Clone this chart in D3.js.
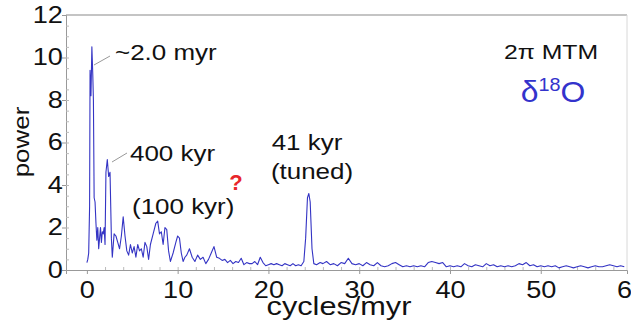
<!DOCTYPE html>
<html lang="en">
<head>
<meta charset="UTF-8">
<title>MTM spectrum</title>
<script src="https://d3js.org/d3.v7.min.js"></script>
<style>
  body { margin: 0; background: #fff; font-family: 'Liberation Sans', Arial, sans-serif; }
  svg { display: block; }
</style>
</head>
<body>
<svg id="chart" width="631" height="326"></svg>
<script>
// frequency (cycles/myr) and power
const freq = [0, 0.1, 0.2, 0.3, 0.35, 0.45, 0.55, 0.65, 0.72, 0.8, 0.9, 1.0, 1.1, 1.2, 1.3, 1.4, 1.5, 1.6, 1.7, 1.8, 1.9, 2.0,
  2.1, 2.25, 2.4, 2.55, 2.7, 2.8, 3.0, 3.2, 3.4, 3.6, 3.8, 4.0, 4.2, 4.4, 4.6, 4.8, 5.0, 5.2, 5.4, 5.6, 5.8, 6.0,
  6.2, 6.4, 6.6, 6.8, 7.0, 7.3, 7.6, 7.8, 8.0, 8.2, 8.4, 8.6, 8.8, 9.0, 9.2, 9.5, 9.8, 10.0, 10.2, 10.4, 10.6,
  10.8, 11.0, 11.3, 11.6, 11.9, 12.2, 12.5, 12.8, 13.1, 13.4, 13.7, 14.0, 14.3, 14.6, 14.9, 15.2, 15.5, 15.8,
  16.1, 16.4, 16.7, 17.0, 17.3, 17.6, 17.9, 18.2, 18.5, 18.8, 19.1, 19.4, 19.7, 20.0, 20.3, 20.6, 20.9, 21.2,
  21.5, 21.8, 22.1, 22.4, 22.7, 23.0, 23.3, 23.6, 23.9, 24.1, 24.3, 24.45, 24.6, 24.8, 25.0, 25.3, 25.7, 26.0,
  26.4, 26.8, 27.2, 27.6, 28.0, 28.4, 28.8, 29.2, 29.6, 30.0, 30.4, 30.8, 31.2, 31.6, 32.0, 32.4, 32.8, 33.2,
  33.6, 34.0, 34.4, 34.8, 35.2, 35.6, 36.0, 36.4, 36.8, 37.2, 37.6, 38.0, 38.4, 38.8, 39.2, 39.6, 40.0, 40.4,
  40.8, 41.2, 41.6, 42.0, 42.4, 42.8, 43.2, 43.6, 44.0, 44.4, 44.8, 45.2, 45.6, 46.0, 46.4, 46.8, 47.2, 47.6,
  48.0, 48.4, 48.8, 49.2, 49.6, 50.0, 50.4, 50.8, 51.2, 51.6, 52.0, 52.4, 52.8, 53.2, 53.6, 54.0, 54.4, 54.8,
  55.2, 55.6, 56.0, 56.4, 56.8, 57.2, 57.6, 58.0, 58.4, 58.8, 59.2, 59.5];
const power = [0.35, 0.5, 0.8, 3.0, 9.4, 8.2, 10.5, 9.2, 8.0, 3.4, 3.2, 2.2, 1.4, 2.0, 1.0, 1.5, 2.0, 1.3, 1.8, 1.7, 2.0, 1.2,
  4.6, 5.2, 4.4, 4.6, 1.5, 0.6, 1.7, 1.6, 1.3, 1.0, 1.6, 2.5, 1.6, 0.9, 0.7, 1.2, 0.8, 1.1, 0.6, 1.2, 0.9, 1.0,
  0.6, 1.3, 1.1, 0.5, 1.2, 1.7, 2.2, 2.3, 1.7, 1.8, 1.2, 2.0, 1.9, 0.9, 0.4, 0.8, 1.3, 1.6, 1.5, 0.8, 0.4,
  0.6, 0.7, 1.0, 0.6, 0.4, 0.7, 0.5, 0.6, 0.3, 0.5, 0.8, 1.1, 0.6, 0.55, 0.45, 0.5, 0.35, 0.45,
  0.3, 0.4, 0.35, 0.55, 0.25, 0.35, 0.3, 0.3, 0.4, 0.25, 0.6, 0.35, 0.2, 0.25, 0.3, 0.25, 0.3, 0.25,
  0.2, 0.3, 0.25, 0.2, 0.3, 0.2, 0.25, 0.2, 0.4, 1.5, 3.4, 3.6, 3.2, 1.0, 0.3, 0.25, 0.35, 0.3,
  0.4, 0.25, 0.3, 0.2, 0.35, 0.3, 0.55, 0.3, 0.25, 0.3, 0.2, 0.35, 0.25, 0.2, 0.35, 0.2, 0.15, 0.2,
  0.3, 0.35, 0.25, 0.15, 0.2, 0.15, 0.2, 0.15, 0.2, 0.15, 0.35, 0.4, 0.35, 0.3, 0.35, 0.15, 0.2,
  0.15, 0.2, 0.15, 0.3, 0.2, 0.15, 0.25, 0.2, 0.15, 0.3, 0.2, 0.25, 0.15, 0.2, 0.15, 0.2, 0.15, 0.2,
  0.3, 0.25, 0.35, 0.2, 0.25, 0.15, 0.2, 0.15, 0.2, 0.15, 0.2, 0.1, 0.15, 0.2, 0.15, 0.1, 0.15, 0.2,
  0.15, 0.1, 0.15, 0.2, 0.15, 0.15, 0.2, 0.25, 0.2, 0.15, 0.2, 0.15];

const yTicks = [0, 2, 4, 6, 8, 10, 12];
const xTicks = [0, 10, 20, 30, 40, 50, 60];

const svg = d3.select("#chart");
const mLeft = 66, mRight = 627, mTop = 15, mBottom = 270;
const sx = 1.18; // the original lettering is a bit wide

const x = d3.scaleLinear().domain([-2.3, 59.5]).range([mLeft, mRight]);
const y = d3.scaleLinear().domain([0, 12]).range([mBottom, mTop]);

// frame
svg.append("line").attr("x1", mLeft).attr("x2", mRight).attr("y1", mTop).attr("y2", mTop)
  .attr("stroke", "#b0b0b0").attr("stroke-width", 1.5);
svg.append("line").attr("x1", mRight).attr("x2", mRight).attr("y1", mTop).attr("y2", mBottom)
  .attr("stroke", "#d8d8d8");

// y axis: major ticks outward, minor ticks inward
const gy = svg.append("g").attr("transform", `translate(${mLeft},0)`)
  .call(d3.axisLeft(y).tickValues(yTicks).tickSize(4).tickPadding(-1.3));
gy.select(".domain").attr("stroke", "#999");
gy.selectAll(".tick line").attr("stroke", "#999");
gy.selectAll(".tick text").style("font-size", "23px").attr("transform", `scale(${sx},1)`)
  .style("font-family", "'Liberation Sans', Arial, sans-serif").attr("fill", "#111");
svg.append("g").attr("transform", `translate(${mLeft},0)`)
  .call(d3.axisRight(y).tickValues(d3.range(0.5, 12, 0.5)).tickSize(3).tickFormat(""))
  .call(g => g.select(".domain").remove())
  .selectAll("line").attr("stroke", "#bbb");

// x axis
const gx = svg.append("g").attr("transform", `translate(0,${mBottom})`)
  .call(d3.axisBottom(x).tickValues(xTicks).tickSize(4).tickPadding(8));
gx.select(".domain").attr("stroke", "#999");
gx.selectAll(".tick line").attr("stroke", "#999");
gx.selectAll(".tick text").style("font-size", "23px").attr("transform", `scale(${sx},1)`)
  .style("font-family", "'Liberation Sans', Arial, sans-serif").attr("fill", "#111");
svg.append("g").attr("transform", `translate(0,${mBottom})`)
  .call(d3.axisTop(x).tickValues(d3.range(2, 60, 2)).tickSize(3).tickFormat(""))
  .call(g => g.select(".domain").remove())
  .selectAll("line").attr("stroke", "#bbb");

// spectrum
const pts = freq.map((f, i) => [f, power[i]]);
svg.append("path").datum(pts)
  .attr("fill", "none").attr("stroke", "#3434c4").attr("stroke-width", 1.1)
  .attr("stroke-linejoin", "round")
  .attr("d", d3.line().x(d => x(d[0])).y(d => y(d[1])));

function label(px, py, txt, size, anchor, color) {
  return svg.append("text")
    .attr("transform", `translate(${px},${py}) scale(${sx},1)`)
    .attr("text-anchor", anchor || "start")
    .style("font-size", size + "px")
    .attr("fill", color || "#111")
    .text(txt);
}

// axis titles
svg.append("text").attr("transform", `translate(29,142) rotate(-90) scale(${sx},1)`)
  .attr("text-anchor", "middle").style("font-size", "22px").attr("fill", "#111").text("power");
label(339, 315, "cycles/myr", 26, "middle");

// annotations
label(115, 60, "~2.0 myr", 22);
label(130, 161, "400 kyr", 22);
label(132, 214, "(100 kyr)", 22);
label(307, 150, "41 kyr", 22, "middle");
label(312, 179, "(tuned)", 22, "middle");
svg.append("line").attr("x1", 94).attr("y1", 65).attr("x2", 110).attr("y2", 56)
  .attr("stroke", "#999").attr("stroke-width", 1);
svg.append("line").attr("x1", 112).attr("y1", 162).attr("x2", 127).attr("y2", 153)
  .attr("stroke", "#999").attr("stroke-width", 1);

svg.append("text").attr("x", 236).attr("y", 190).attr("text-anchor", "middle")
  .style("font-size", "22px").style("font-weight", "bold").attr("fill", "#e8262a").text("?");

label(551, 59, "2π MTM", 21, "middle");
const d18 = svg.append("text").attr("transform", "translate(553,102) scale(1.1,1)")
  .attr("text-anchor", "middle").style("font-size", "29px").attr("fill", "#3333cc");
d18.append("tspan").text("δ");
d18.append("tspan").attr("dy", -11).style("font-size", "18px").text("18");
d18.append("tspan").attr("dy", 11).text("O");
</script>
</body>
</html>
